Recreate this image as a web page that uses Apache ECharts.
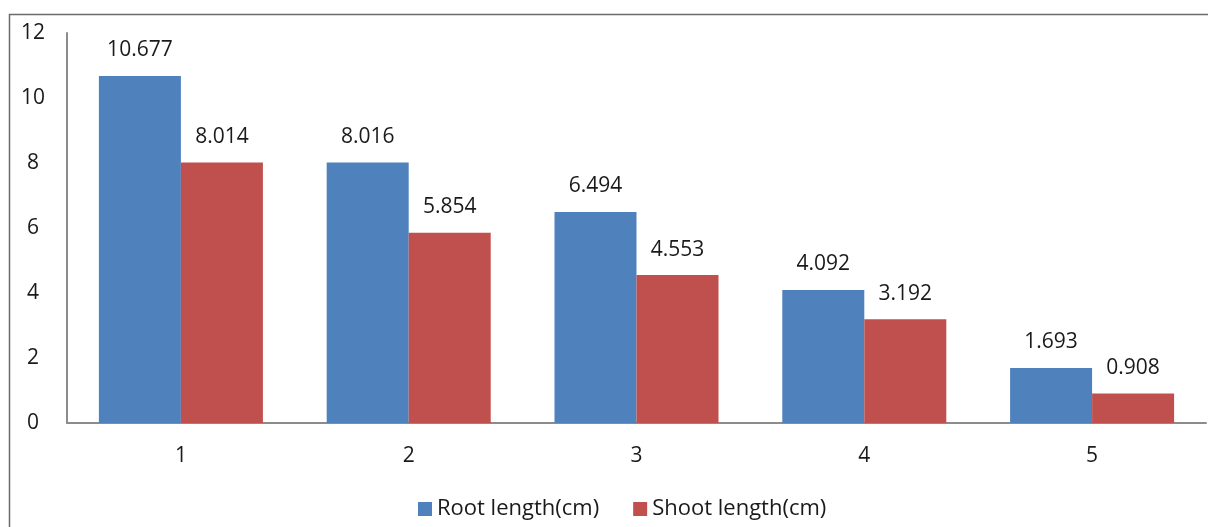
<!DOCTYPE html>
<html>
<head>
<meta charset="utf-8">
<script src="https://cdn.jsdelivr.net/npm/echarts@6/dist/echarts.min.js"></script>
<style>
html,body{margin:0;padding:0;background:#fff;}
#c{width:1208px;height:527px;}
</style>
</head>
<body>
<div id="c"></div>
<script>
const categories = ['1', '2', '3', '4', '5'];
const rootLength = [10.677, 8.016, 6.494, 4.092, 1.693];
const shootLength = [8.014, 5.854, 4.553, 3.192, 0.908];
const seriesNames = ['Root length(cm)', 'Shoot length(cm)'];

const FONT = '"Open Sans", "Noto Sans", sans-serif';
const chart = echarts.init(document.getElementById('c'));
const labelStyle = {
  show: true, position: 'top', distance: 15,
  color: '#1a1a1a', fontSize: 21, fontFamily: FONT,
  formatter: p => p.value.toFixed(3)
};
chart.setOption({
  animation: false,
  textStyle: { fontFamily: FONT },
  graphic: [{
    type: 'polyline', silent: true,
    shape: { points: [[9.5, 527], [9.5, 14.5], [1208, 14.5]] },
    style: { stroke: '#6b6b6b', lineWidth: 1.5, fill: null }
  }],
  grid: { left: 67, right: 2, top: 33, bottom: 104 },
  legend: {
    bottom: 2, left: 413,
    itemWidth: 14, itemHeight: 14, itemGap: 34, icon: 'rect',
    textStyle: { fontSize: 22, color: '#1a1a1a', fontFamily: FONT }
  },
  xAxis: {
    type: 'category', data: categories,
    axisLine: { lineStyle: { color: '#8c8c8c', width: 2 } },
    axisTick: { show: false },
    axisLabel: { fontSize: 21, color: '#1a1a1a', margin: 23, fontFamily: FONT }
  },
  yAxis: {
    type: 'value', min: 0, max: 12, interval: 2,
    axisLine: { show: true, lineStyle: { color: '#8c8c8c', width: 2 } },
    axisTick: { show: false },
    splitLine: { show: false },
    axisLabel: { fontSize: 21, color: '#1a1a1a', margin: 34, align: 'center', fontFamily: FONT }
  },
  series: [
    { name: seriesNames[0], type: 'bar', data: rootLength, barGap: '0%', barCategoryGap: '28%',
      itemStyle: { color: '#4f81bd' }, label: labelStyle },
    { name: seriesNames[1], type: 'bar', data: shootLength, barGap: '0%', barCategoryGap: '28%',
      itemStyle: { color: '#c0504d' }, label: labelStyle }
  ]
});
</script>
</body>
</html>
